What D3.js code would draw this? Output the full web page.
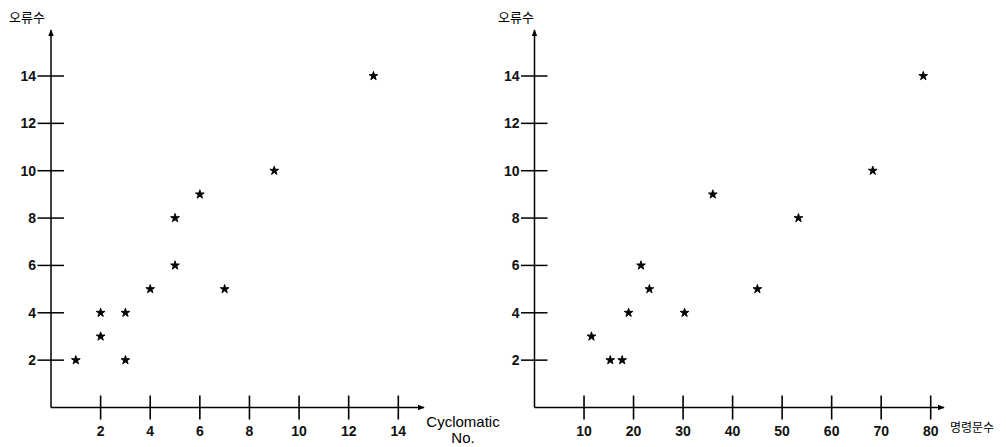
<!DOCTYPE html>
<html>
<head>
<meta charset="utf-8">
<script src="https://cdn.jsdelivr.net/npm/d3@7"></script>
<style>
  body { margin: 0; background: #fff; }
  svg { display: block; }
</style>
</head>
<body>
<svg id="chart" width="1006" height="447"></svg>
<script>
let width = 1006;
let height = 447;

// 왼쪽 그림: Cyclomatic No. vs 오류수
const cycloX = [1, 2, 2, 3, 3, 4, 5, 5, 6, 7, 9, 13];
const cycloY = [2, 3, 4, 2, 4, 5, 6, 8, 9, 5, 10, 14];
const cycloTicks = [2, 4, 6, 8, 10, 12, 14];

// 오른쪽 그림: 명령문수 vs 오류수
const stmtX = [11.5, 15.3, 17.7, 19, 21.5, 23.2, 30.3, 36, 45, 53.3, 68.3, 78.5];
const stmtY = [3, 2, 2, 4, 6, 5, 4, 9, 5, 8, 10, 14];
const stmtTicks = [10, 20, 30, 40, 50, 60, 70, 80];

const errTicks = [2, 4, 6, 8, 10, 12, 14];

let svg = d3.select('#chart');

const labelFont = 'Liberation Sans, Arial, sans-serif';
const krFont = '"Noto Sans CJK KR", sans-serif';

svg.append('defs').append('marker')
  .attr('id', 'arrow')
  .attr('viewBox', '0 0 10 10')
  .attr('refX', 9).attr('refY', 5)
  .attr('markerWidth', 7).attr('markerHeight', 7)
  .attr('markerUnits', 'userSpaceOnUse')
  .attr('orient', 'auto')
  .append('path')
  .attr('d', 'M0,1 L10,5 L0,9 z')
  .attr('fill', '#000');

function drawPanel(opt) {
  const g = svg.append('g');
  const x = d3.scaleLinear().domain(opt.xDomain).range(opt.xRange);
  const y = d3.scaleLinear().domain([0, 14]).range([407.5, 76]);

  // 축
  g.append('line')
    .attr('x1', x(0)).attr('y1', y(0))
    .attr('x2', opt.xEnd).attr('y2', y(0))
    .attr('stroke', '#000').attr('stroke-width', 1.5)
    .attr('marker-end', 'url(#arrow)');
  g.append('line')
    .attr('x1', x(0)).attr('y1', y(0))
    .attr('x2', x(0)).attr('y2', 30)
    .attr('stroke', '#000').attr('stroke-width', 1.5)
    .attr('marker-end', 'url(#arrow)');

  // x 눈금
  g.selectAll('.xt').data(opt.xTicks).join('line')
    .attr('x1', d => x(d)).attr('x2', d => x(d))
    .attr('y1', y(0) - 12).attr('y2', y(0) + 12)
    .attr('stroke', '#000').attr('stroke-width', 1.6);
  g.selectAll('.xl').data(opt.xTicks).join('text')
    .attr('x', d => x(d)).attr('y', 436)
    .attr('text-anchor', 'middle')
    .attr('font-family', labelFont).attr('font-size', 14).attr('font-weight', 'bold')
    .attr('fill', '#111')
    .text(d => d);

  // y 눈금
  g.selectAll('.yt').data(errTicks).join('line')
    .attr('x1', x(0) - 13.5).attr('x2', x(0) + 13)
    .attr('y1', d => y(d)).attr('y2', d => y(d))
    .attr('stroke', '#000').attr('stroke-width', 1.5);
  g.selectAll('.yl').data(errTicks).join('text')
    .attr('x', x(0) - 15).attr('y', d => y(d) + 5)
    .attr('text-anchor', 'end')
    .attr('font-family', labelFont).attr('font-size', 14).attr('font-weight', 'bold')
    .attr('fill', '#111')
    .text(d => d);

  // 점
  const pts = opt.xs.map((v, i) => ({x: v, y: opt.ys[i]}));
  g.selectAll('.pt').data(pts).join('path')
    .attr('d', d3.symbol().type(d3.symbolStar).size(24))
    .attr('transform', d => `translate(${x(d.x)},${y(d.y)})`)
    .attr('fill', '#000')
    .attr('stroke', '#000').attr('stroke-width', 0.9)
    .attr('stroke-linejoin', 'round');

  // 제목
  g.append('text')
    .attr('x', opt.titleX).attr('y', 22)
    .attr('font-family', krFont).attr('font-size', 13)
    .attr('fill', '#000')
    .text('오류수');
}

drawPanel({
  xDomain: [0, 14], xRange: [51, 398.3], xEnd: 424,
  xTicks: cycloTicks, xs: cycloX, ys: cycloY, titleX: 9
});
drawPanel({
  xDomain: [0, 80], xRange: [534.5, 930.7], xEnd: 944,
  xTicks: stmtTicks, xs: stmtX, ys: stmtY, titleX: 498
});

// x축 이름
svg.append('text')
  .attr('x', 463).attr('y', 427)
  .attr('text-anchor', 'middle')
  .attr('font-family', labelFont).attr('font-size', 15)
  .text('Cyclomatic');
svg.append('text')
  .attr('x', 463).attr('y', 443)
  .attr('text-anchor', 'middle')
  .attr('font-family', labelFont).attr('font-size', 15)
  .text('No.');
svg.append('text')
  .attr('x', 950).attr('y', 432)
  .attr('font-family', krFont).attr('font-size', 12)
  .text('명령문수');
</script>
</body>
</html>
